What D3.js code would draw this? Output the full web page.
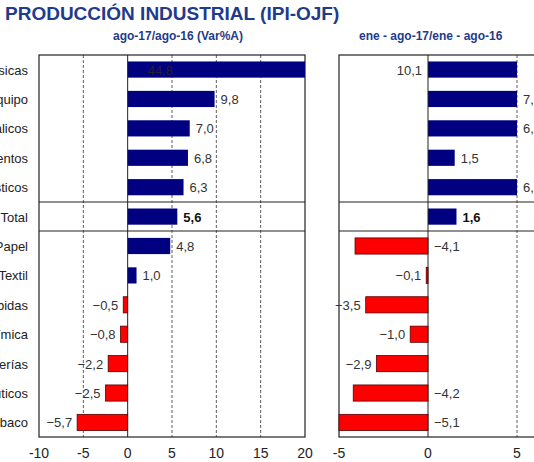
<!DOCTYPE html><html><head><meta charset="utf-8"><script src="https://cdn.jsdelivr.net/npm/d3@7"></script>
<style>body{margin:0;background:#fff}svg{font-family:Arial,"Liberation Sans",sans-serif}</style></head><body><svg id="c" width="534" height="462"></svg>
<script>
const categories=["Metálicas básicas","Maquinaria y equipo","Minerales no metálicos","Alimentos","Caucho y plásticos","Total","Papel","Textil","Bebidas","Química","Refinerías","Farmacéuticos","Tabaco"];
const valuesAgo=[44.8,9.8,7.0,6.8,6.3,5.6,4.8,1.0,-0.5,-0.8,-2.2,-2.5,-5.7];
const valuesEneAgo=[10.1,7.5,6.5,1.5,6.0,1.6,-4.1,-0.1,-3.5,-1.0,-2.9,-4.2,-5.1];
const labelSideRight=["in","right","right","right","right","right","right","left","left","left","left","right","right"];
const ticksLeft=[-10,-5,0,5,10,15,20], ticksRight=[-5,0,5];
const svg=d3.select("#c");
const pTop=55,pBot=437;
const y=d3.scaleBand().domain(categories).range([pTop,pBot]).paddingInner(0.45).paddingOuter(0.22);
const xl=d3.scaleLinear().domain([-10,20]).range([39,305]);
const xr=d3.scaleLinear().domain([-5,5]).range([339,517]);
const fmt=v=>d3.format(".1f")(v).replace(".",",");
svg.append("text").attr("x",5).attr("y",20).attr("font-size",19).attr("font-weight","bold").attr("fill","#1f3b8c").text("PRODUCCIÓN INDUSTRIAL (IPI-OJF)");
svg.append("text").attr("x",178).attr("y",40).attr("text-anchor","middle").attr("font-size",12).attr("font-weight","bold").attr("fill","#1f3b8c").text("ago-17/ago-16  (Var%A)");
svg.append("text").attr("x",359).attr("y",40).attr("font-size",12).attr("font-weight","bold").attr("fill","#1f3b8c").text("ene - ago-17/ene - ago-16");
function panel(x,vals,ticks,x0,x1,lab,inRight){
  const clamp=d=>Math.max(x.domain()[0],Math.min(d,x.domain()[1]));
  const g=svg.append("g");
  g.selectAll(".gr").data(ticks.filter(t=>t!==0&&x(t)>x0+1&&x(t)<x1-1)).join("line").attr("x1",d=>x(d)).attr("x2",d=>x(d)).attr("y1",pTop).attr("y2",pBot).attr("stroke","#333").attr("stroke-dasharray","3,2").attr("stroke-width",0.8);
  g.append("rect").attr("x",x0).attr("y",pTop).attr("width",x1-x0).attr("height",pBot-pTop).attr("fill","none").attr("stroke","#222").attr("stroke-width",1.2);
  [202,231].forEach(h=>g.append("line").attr("x1",x0).attr("x2",x1).attr("y1",h).attr("y2",h).attr("stroke","#222").attr("stroke-width",1.2));
  g.selectAll(".b").data(vals).join("rect")
   .attr("x",d=>Math.min(x(0),x(clamp(d))))
   .attr("y",(d,i)=>y(categories[i])).attr("height",y.bandwidth())
   .attr("width",d=>Math.abs(x(clamp(d))-x(0)))
   .attr("fill",d=>d>=0?"#000080":"#ff0000").attr("stroke",d=>d>=0?"none":"#5a0000").attr("stroke-width",0.8);
  g.append("line").attr("x1",x(0)).attr("x2",x(0)).attr("y1",pTop).attr("y2",pBot).attr("stroke","#222");
  g.selectAll(".t").data(ticks).join("text").attr("x",d=>x(d)).attr("y",458).attr("text-anchor","middle").attr("font-size",14).attr("fill","#222").text(d=>d);
  g.selectAll(".l").data(vals).join("text")
   .attr("y",(d,i)=>y(categories[i])+y.bandwidth()/2+5)
   .attr("x",(d,i)=>{const s=lab(d,i);const e=x(clamp(d));
      if(s==="in")return inRight?x(0)-6:x(0)+20; if(s==="right")return Math.max(e,x(0))+6; return Math.min(e,x(0))-5;})
   .attr("text-anchor",(d,i)=>{const s=lab(d,i);return s==="left"||(s==="in"&&inRight)?"end":"start";})
   .attr("font-size",13).attr("font-weight",(d,i)=>i===5?"bold":"normal").attr("fill",(d,i)=>i===5?"#111":(lab(d,i)==="in"&&!inRight?"#223":"#333"))
   .text(d=>fmt(d));
}
const labL=(d,i)=>i===0?"in":(d>=0?"right":"left");
const labR=(d,i)=>labelSideRight[i];
panel(xl,valuesAgo,ticksLeft,39,305,labL,false);
panel(xr,valuesEneAgo,ticksRight,339,600,labR,true);
svg.selectAll(".cat").data(categories).join("text").attr("x",28).attr("y",d=>y(d)+y.bandwidth()/2+5).attr("text-anchor","end").attr("font-size",13).attr("fill","#222").text(d=>d);
</script></body></html>
